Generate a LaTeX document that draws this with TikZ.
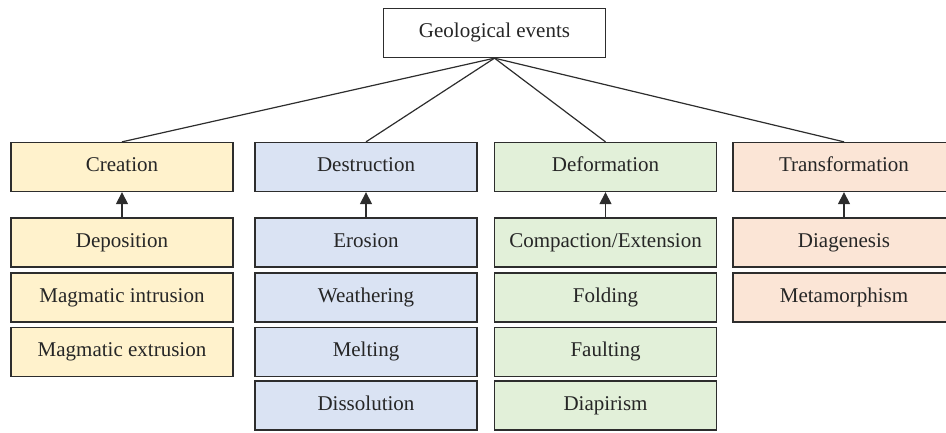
\documentclass[tikz,border=0pt]{standalone}
\usepackage{fontspec}
\setmainfont{Liberation Serif}
\usepackage{xcolor}
\usepackage{tikz}
\usetikzlibrary{arrows.meta,positioning}
\definecolor{creaYellow}{RGB}{255, 242, 204}
\definecolor{destBlue}  {RGB}{218, 227, 243}
\definecolor{defoGreen} {RGB}{226, 240, 217}
\definecolor{tranPeach} {RGB}{251, 229, 214}
\definecolor{edgeGray}  {RGB}{ 45,  45,  45}

\begin{document}
\begin{tikzpicture}[x=1pt,y=-1pt,
    evbox/.style={draw=edgeGray,line width=1.3pt,minimum width=222pt,
                  minimum height=49pt,inner sep=0pt,
                  text height=14pt,text depth=4.5pt,
                  font=\fontsize{21}{25}\selectfont,text=black!85},
    tie/.style={draw=edgeGray,line width=1.2pt},
    up/.style={draw=edgeGray,line width=1.2pt,
               -{Triangle[length=12pt,width=12pt]}}]

    \useasboundingbox (0,0) rectangle (946,432);

    % ── TOPO ───────────────────────────────────────────────
    \node[evbox,fill=white] (geo) at (494.5,33){Geological events};

    % ── CATEGORIAS ─────────────────────────────────────────
    \node[evbox,fill=creaYellow] (crea) at (122,167){Creation};
    \node[evbox,fill=destBlue]   (dest) at (366,167){Destruction};
    \node[evbox,fill=defoGreen]  (defo) at (605.5,167){Deformation};
    \node[evbox,fill=tranPeach]  (tran) at (844,167){Transformation};

    \foreach \c in {crea,dest,defo,tran}{
      \draw[tie] (geo.south) -- (\c.north);
    }

    % ── CREATION ───────────────────────────────────────────
    \node[evbox,fill=creaYellow] (crea1) at (122,242.5){Deposition};
    \node[evbox,fill=creaYellow] (crea2) at (122,297.5){Magmatic intrusion};
    \node[evbox,fill=creaYellow] (crea3) at (122,352){Magmatic extrusion};
    \draw[up] (crea1.north) -- (crea.south);

    % ── DESTRUCTION ────────────────────────────────────────
    \node[evbox,fill=destBlue] (dest1) at (366,242.5){Erosion};
    \node[evbox,fill=destBlue] (dest2) at (366,297.5){Weathering};
    \node[evbox,fill=destBlue] (dest3) at (366,352){Melting};
    \node[evbox,fill=destBlue] (dest4) at (366,405.5){Dissolution};
    \draw[up] (dest1.north) -- (dest.south);

    % ── DEFORMATION ────────────────────────────────────────
    \node[evbox,fill=defoGreen] (defo1) at (605.5,242.5){Compaction/Extension};
    \node[evbox,fill=defoGreen] (defo2) at (605.5,297.5){Folding};
    \node[evbox,fill=defoGreen] (defo3) at (605.5,352){Faulting};
    \node[evbox,fill=defoGreen] (defo4) at (605.5,405.5){Diapirism};
    \draw[up] (defo1.north) -- (defo.south);

    % ── TRANSFORMATION ─────────────────────────────────────
    \node[evbox,fill=tranPeach] (tran1) at (844,242.5){Diagenesis};
    \node[evbox,fill=tranPeach] (tran2) at (844,297.5){Metamorphism};
    \draw[up] (tran1.north) -- (tran.south);

\end{tikzpicture}
\end{document}
